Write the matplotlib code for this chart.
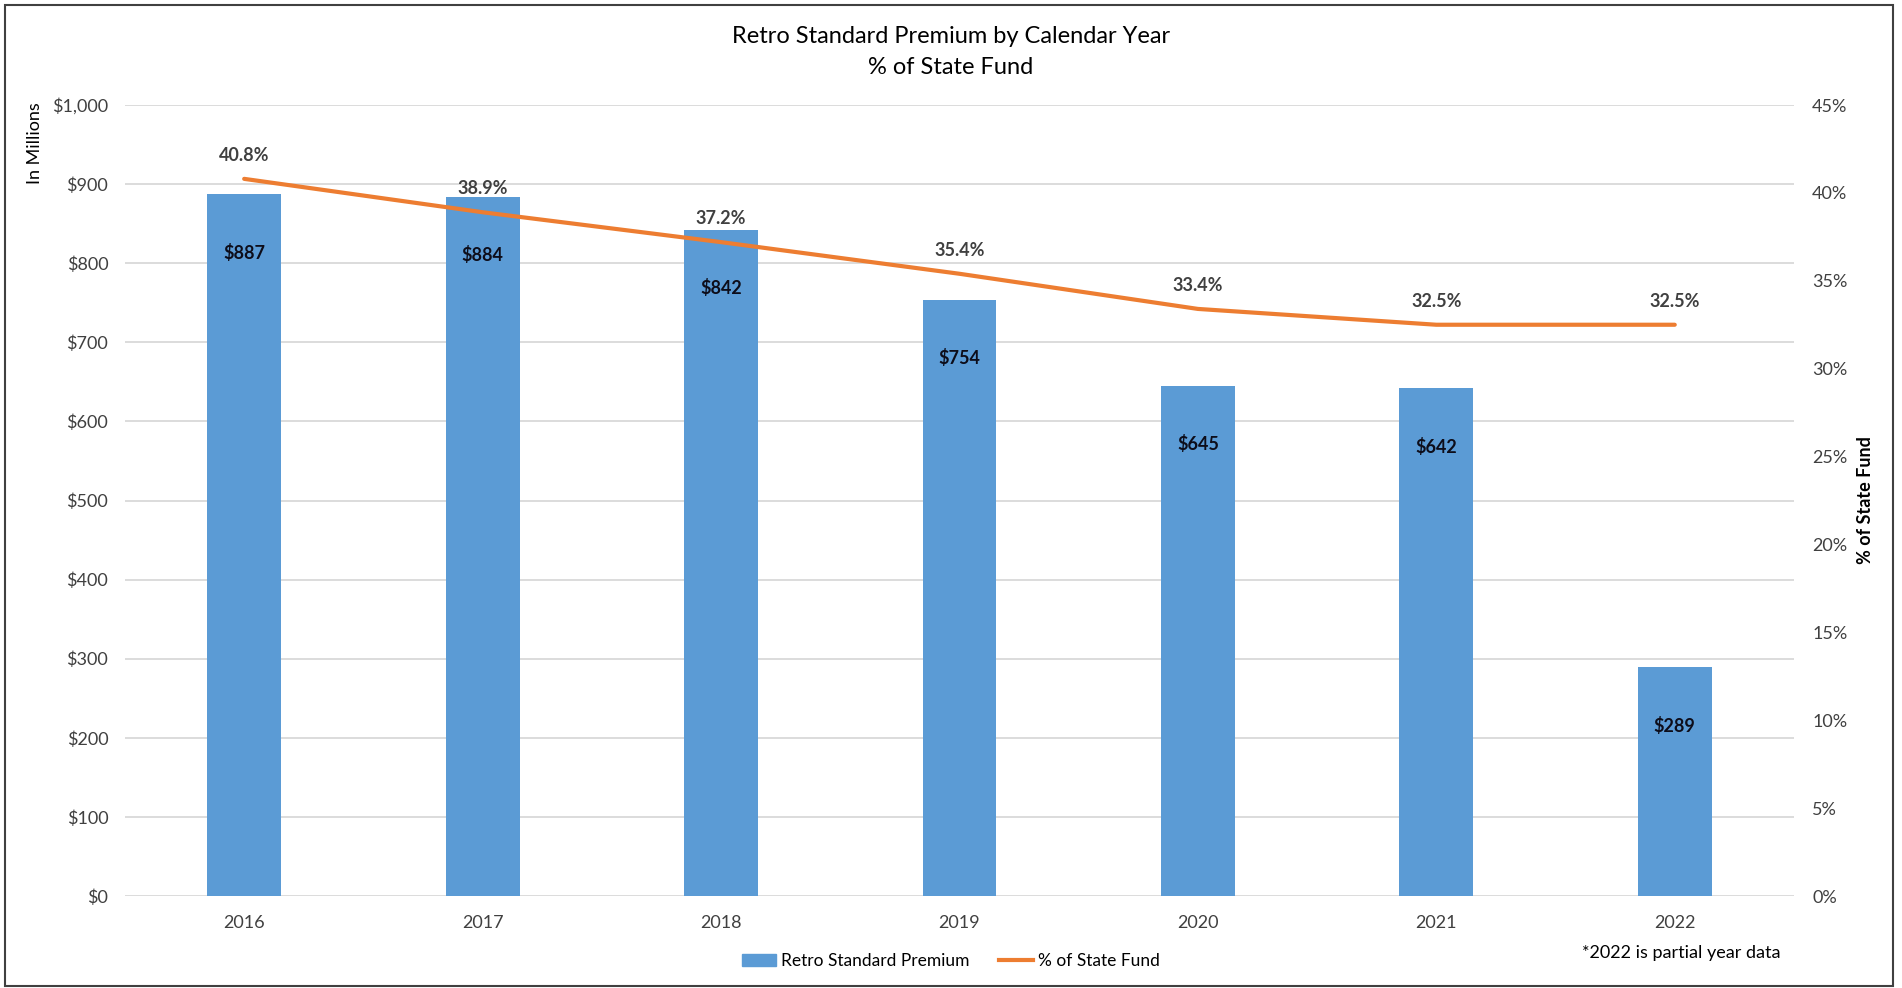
import matplotlib
matplotlib.use("Agg")
import matplotlib.pyplot as plt
from matplotlib.patches import Rectangle
from matplotlib.ticker import FuncFormatter, MultipleLocator

# data
years = ["2016", "2017", "2018", "2019", "2020", "2021", "2022"]
premium = [887, 884, 842, 754, 645, 642, 289]   # in millions
pct_state_fund = [40.8, 38.9, 37.2, 35.4, 33.4, 32.5, 32.5]

plt.rcParams['font.family'] = ['Lato', 'DejaVu Sans']

bar_color = '#5B9BD5'
line_color = '#ED7D31'
text_grey = '#404040'

fig = plt.figure(figsize=(19.02, 9.88), dpi=100)
ax = fig.add_axes([0.0657, 0.0931, 0.8775, 0.8006])
ax2 = ax.twinx()

x = list(range(len(years)))

# bars
ax.bar(x, premium, width=0.31, color=bar_color, zorder=2)
ax.set_ylim(0, 1000)
ax.set_xlim(-0.5, len(years) - 0.5)
ax.yaxis.set_major_locator(MultipleLocator(100))
ax.yaxis.set_major_formatter(FuncFormatter(lambda v, p: "${:,.0f}".format(v)))
ax.set_xticks(x)
ax.set_xticklabels(years)
ax.grid(axis='y', color='#d9d9d9', linewidth=1.3, zorder=0)
ax.set_axisbelow(True)
for v_i, v in zip(x, premium):
    ax.annotate("${}".format(v), (v_i, v), xytext=(0, -42), textcoords='offset points',
                ha='center', va='center', fontsize=13, fontweight='bold', color='#0d0d1a')

# line on secondary axis
ax2.plot(x, pct_state_fund, color=line_color, linewidth=3, solid_capstyle='round', zorder=3)
ax2.set_ylim(0, 45)
ax2.yaxis.set_major_locator(MultipleLocator(5))
ax2.yaxis.set_major_formatter(FuncFormatter(lambda v, p: "{:.0f}%".format(v)))
for p_i, p in zip(x, pct_state_fund):
    ax2.annotate("{:.1f}%".format(p), (p_i, p), xytext=(0, 17), textcoords='offset points',
                 ha='center', va='center', fontsize=13, fontweight='bold', color=text_grey)

for a in (ax, ax2):
    for s in a.spines.values():
        s.set_visible(False)
    a.tick_params(length=0, labelsize=13, labelcolor=text_grey)
ax.tick_params(axis='y', pad=12)
ax.tick_params(axis='x', pad=14)
ax2.tick_params(axis='y', pad=13)

ax2.set_ylabel("% of State Fund", fontsize=13, fontweight='bold')
ax2.yaxis.set_label_coords(1.0375, 0.5)
fig.text(0.0184, 0.855, "In Millions", rotation=90, ha='center', va='center', fontsize=13)

fig.text(0.5, 0.963, "Retro Standard Premium by Calendar Year", ha='center', va='center', fontsize=17)
fig.text(0.5, 0.932, "% of State Fund", ha='center', va='center', fontsize=17)

# legend
handles = [Rectangle((0, 0), 1, 1, color=bar_color),
           plt.Line2D([0], [0], color=line_color, linewidth=3)]
fig.legend(handles, ["Retro Standard Premium", "% of State Fund"], loc='center',
           bbox_to_anchor=(0.5, 0.027), ncol=2, frameon=False, fontsize=12.5,
           handlelength=1.95, handletextpad=0.3, columnspacing=1.7)

fig.text(0.884, 0.035, "*2022 is partial year data", ha='center', va='center', fontsize=13)

# outer frame
fig.patches.append(Rectangle((0.0026, 0.002), 0.9927, 0.993, transform=fig.transFigure,
                             fill=False, edgecolor='#404040', linewidth=1.5))

fig.savefig("out.png", dpi=100)
